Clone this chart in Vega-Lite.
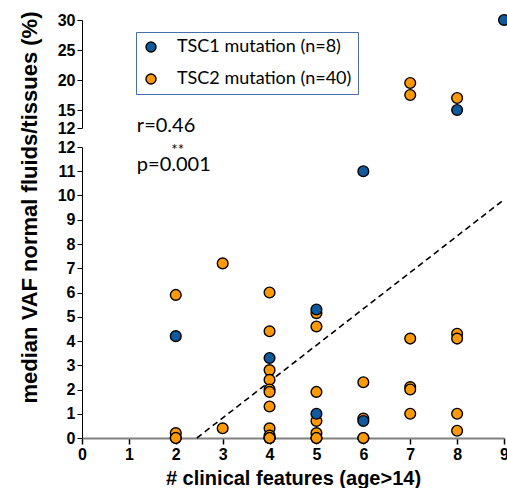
{
  "$schema": "https://vega.github.io/schema/vega-lite/v6.json",
  "autosize": {"type": "pad"},
  "padding": {"left": 17, "top": 11, "right": 0, "bottom": 0},
  "background": "white",
  "bounds": "flush",
  "spacing": 19,
  "config": {
    "view": {"stroke": null},
    "axis": {
      "labelFont": "Liberation Sans", "labelFontSize": 16, "labelFontWeight": "bold", "labelColor": "black",
      "tickColor": "black", "domainColor": "black", "titleFont": "Liberation Sans", "titleFontWeight": "bold",
      "titleColor": "black", "grid": false, "labelOverlap": false, "labelFlush": false
    },
    "legend": {
      "orient": "none", "legendX": 54, "legendY": 12, "title": null,
      "strokeColor": "#4a6fa8", "padding": 6, "rowPadding": 14,
      "symbolType": "circle", "symbolSize": 100, "symbolStrokeColor": "black", "symbolStrokeWidth": 1.4, "symbolOpacity": 1,
      "labelFont": "Lato", "labelFontSize": 18, "labelOffset": 17, "labelColor": "black", "labelLimit": 0
    }
  },
  "datasets": {
    "pts": [
      {"x": 2, "y": 5.9, "m": "TSC2"}, {"x": 2, "y": 0.2, "m": "TSC2"}, {"x": 2, "y": 0, "m": "TSC2"}, {"x": 2, "y": 0, "m": "TSC2"},
      {"x": 3, "y": 7.2, "m": "TSC2"}, {"x": 3, "y": 0.4, "m": "TSC2"},
      {"x": 4, "y": 6.0, "m": "TSC2"}, {"x": 4, "y": 4.4, "m": "TSC2"}, {"x": 4, "y": 2.8, "m": "TSC2"}, {"x": 4, "y": 2.4, "m": "TSC2"},
      {"x": 4, "y": 2.0, "m": "TSC2"}, {"x": 4, "y": 1.9, "m": "TSC2"}, {"x": 4, "y": 1.3, "m": "TSC2"}, {"x": 4, "y": 0.4, "m": "TSC2"},
      {"x": 4, "y": 0.1, "m": "TSC2"}, {"x": 4, "y": 0, "m": "TSC2"}, {"x": 4, "y": 0, "m": "TSC2"}, {"x": 4, "y": 0, "m": "TSC2"},
      {"x": 5, "y": 5.15, "m": "TSC2"}, {"x": 5, "y": 4.6, "m": "TSC2"}, {"x": 5, "y": 1.9, "m": "TSC2"}, {"x": 5, "y": 0.7, "m": "TSC2"},
      {"x": 5, "y": 0.2, "m": "TSC2"}, {"x": 5, "y": 0, "m": "TSC2"}, {"x": 5, "y": 0, "m": "TSC2"},
      {"x": 6, "y": 2.3, "m": "TSC2"}, {"x": 6, "y": 0.8, "m": "TSC2"}, {"x": 6, "y": 0, "m": "TSC2"}, {"x": 6, "y": 0, "m": "TSC2"},
      {"x": 7, "y": 19.5, "m": "TSC2"}, {"x": 7, "y": 17.5, "m": "TSC2"}, {"x": 7, "y": 4.1, "m": "TSC2"}, {"x": 7, "y": 2.1, "m": "TSC2"},
      {"x": 7, "y": 2.0, "m": "TSC2"}, {"x": 7, "y": 1.0, "m": "TSC2"},
      {"x": 8, "y": 17.0, "m": "TSC2"}, {"x": 8, "y": 4.3, "m": "TSC2"}, {"x": 8, "y": 4.1, "m": "TSC2"}, {"x": 8, "y": 1.0, "m": "TSC2"},
      {"x": 8, "y": 0.3, "m": "TSC2"},
      {"x": 2, "y": 4.2, "m": "TSC1"}, {"x": 4, "y": 3.3, "m": "TSC1"}, {"x": 5, "y": 5.3, "m": "TSC1"}, {"x": 5, "y": 1.0, "m": "TSC1"},
      {"x": 6, "y": 11.0, "m": "TSC1"}, {"x": 6, "y": 0.7, "m": "TSC1"}, {"x": 8, "y": 15.0, "m": "TSC1"}, {"x": 9, "y": 30.0, "m": "TSC1"}
    ],
    "fit": [{"x": 2.45, "y": 0}, {"x": 9, "y": 9.83}]
  },
  "resolve": {"legend": {"color": "independent"}},
  "vconcat": [
    {
      "width": 422, "height": 108,
      "data": {"name": "pts"},
      "transform": [{"filter": "datum.y > 12"}],
      "mark": {"type": "point", "filled": true, "opacity": 1, "size": 115, "stroke": "black", "strokeWidth": 1.4, "shape": "circle"},
      "encoding": {
        "x": {"field": "x", "type": "quantitative", "scale": {"domain": [0, 9], "nice": false}, "axis": null},
        "y": {"field": "y", "type": "quantitative", "scale": {"domain": [12, 30], "nice": false, "zero": false},
          "axis": {"values": [12, 15, 20, 25, 30], "tickSize": 5, "labelPadding": 2, "title": null}},
        "color": {"field": "m", "type": "nominal", "sort": ["TSC1", "TSC2"],
          "scale": {"domain": ["TSC1", "TSC2"], "range": ["#0f5a9c", "#ff9a06"]},
          "legend": {"labelExpr": "datum.label + ' mutation (n=' + (datum.label == 'TSC1' ? '8' : '40') + ')'"}}
      }
    },
    {
      "width": 422, "height": 291,
      "layer": [
        {
          "data": {"name": "fit"},
          "mark": {"type": "line", "color": "black", "strokeDash": [6, 4], "strokeWidth": 1.6},
          "encoding": {
            "x": {"field": "x", "type": "quantitative"},
            "y": {"field": "y", "type": "quantitative"}
          }
        },
        {
          "data": {"name": "pts"},
          "transform": [{"filter": "datum.y <= 12"}],
          "mark": {"type": "point", "filled": true, "opacity": 1, "size": 115, "stroke": "black", "strokeWidth": 1.4, "shape": "circle"},
          "encoding": {
            "x": {"field": "x", "type": "quantitative"},
            "y": {"field": "y", "type": "quantitative"},
            "color": {"field": "m", "type": "nominal", "legend": null}
          }
        },
        {
          "data": {"values": [{}]},
          "mark": {"type": "text", "text": "r=0.46", "font": "Lato", "fontSize": 20, "align": "left", "baseline": "alphabetic", "color": "black"},
          "encoding": {"x": {"datum": 1.17, "type": "quantitative"}, "y": {"datum": 12.6, "type": "quantitative"}}
        },
        {
          "data": {"values": [{}]},
          "mark": {"type": "text", "text": "p=0.001", "font": "Lato", "fontSize": 20, "align": "left", "baseline": "alphabetic", "color": "black"},
          "encoding": {"x": {"datum": 1.17, "type": "quantitative"}, "y": {"datum": 11.02, "type": "quantitative"}}
        },
        {
          "data": {"values": [{}]},
          "mark": {"type": "text", "text": "**", "font": "Lato", "fontSize": 15, "align": "center", "baseline": "alphabetic", "color": "black"},
          "encoding": {"x": {"datum": 2.04, "type": "quantitative"}, "y": {"datum": 11.68, "type": "quantitative"}}
        }
      ],
      "encoding": {
        "x": {"type": "quantitative", "scale": {"domain": [0, 9], "nice": false},
          "axis": {"values": [0, 1, 2, 3, 4, 5, 6, 7, 8, 9], "tickSize": 6, "tickWidth": 1.5, "domainColor": "#808080", "domainWidth": 2,
            "labelPadding": 2, "title": "# clinical features (age>14)", "titleFontSize": 20, "titlePadding": 6}},
        "y": {"type": "quantitative", "scale": {"domain": [0, 12], "nice": false, "zero": false},
          "axis": {"values": [0, 1, 2, 3, 4, 5, 6, 7, 8, 9, 10, 11, 12], "tickSize": 5, "labelPadding": 2,
            "title": "median VAF normal fluids/tissues (%)", "titleFontSize": 22, "titleX": -41, "titleY": 60, "titleBaseline": "bottom"}}
      }
    }
  ]
}
